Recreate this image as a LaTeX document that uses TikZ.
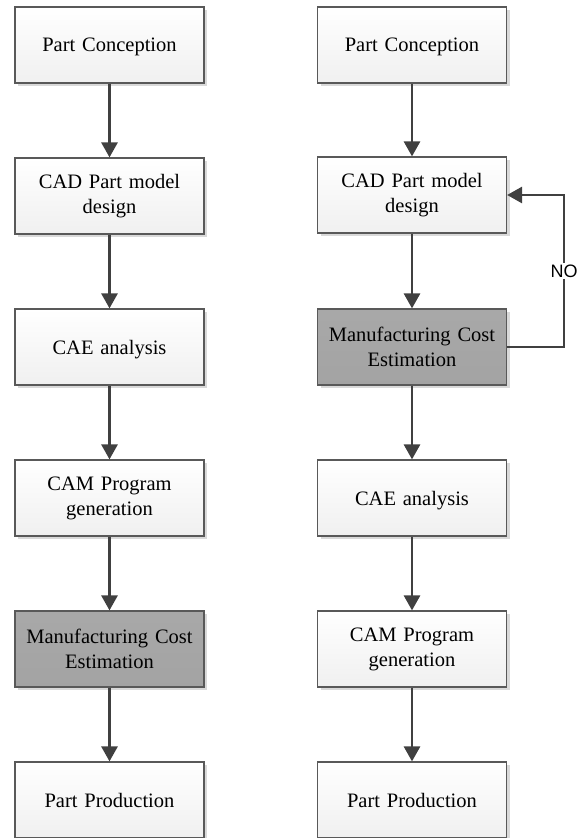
\documentclass[tikz,border=0pt]{standalone}
\usepackage{fontspec}
\setmainfont{Liberation Serif}
\newfontfamily\arialfont{Liberation Sans}
\usetikzlibrary{arrows.meta,shadows}
\definecolor{boxline}{HTML}{595959}
\definecolor{arrowcol}{HTML}{404040}
\definecolor{shadowcol}{HTML}{D9D9D9}
\tikzset{
  stepbox/.style={draw=boxline, line width=1.2pt, minimum width=189pt, minimum height=76pt,
    inner sep=0pt, align=center, font=\fontsize{20.5}{25}\selectfont, text width=185pt,
    top color=white, bottom color=black!6,
    drop shadow={shadow xshift=3pt, shadow yshift=-3pt, fill=shadowcol, opacity=1}},
  oneline/.style={text depth=0pt},
  graybox/.style={stepbox, top color=black!34, bottom color=black!36},
  flow/.style={draw=arrowcol, line width=2.8pt, -{Triangle[length=15pt,width=16pt]}},
}
\begin{document}
\begin{tikzpicture}[x=1pt,y=-1pt]
\useasboundingbox (0,0) rectangle (580,838);
% left column
\node[stepbox,oneline] (L1) at (109.5,45) {Part Conception};
\node[stepbox] (L2) at (109.5,196) {CAD Part model\\design};
\node[stepbox,oneline] (L3) at (109.5,347) {CAE analysis};
\node[stepbox] (L4) at (109.5,498) {CAM Program\\generation};
\node[graybox] (L5) at (109.5,649) {Manufacturing Cost\\Estimation};
\node[stepbox,oneline] (L6) at (109.5,800) {Part Production};
% right column
\node[stepbox,oneline] (R1) at (412,45) {Part Conception};
\node[stepbox] (R2) at (412,195) {CAD Part model\\design};
\node[graybox] (R3) at (412,347) {Manufacturing Cost\\Estimation};
\node[stepbox,oneline] (R4) at (412,498) {CAE analysis};
\node[stepbox] (R5) at (412,649) {CAM Program\\generation};
\node[stepbox,oneline] (R6) at (412,800) {Part Production};
% arrows
\foreach \a/\b in {L1/L2,L2/L3,L3/L4,L4/L5,L5/L6,R1/R2,R2/R3,R3/R4,R4/R5,R5/R6}
  \draw[flow] (\a.south) -- (\b.north);
\coordinate (c1) at (564,347);
\coordinate (c2) at (564,195);
\draw[flow] (R3.east) -- (c1) -- node[fill=white, inner sep=1.5pt, font=\arialfont\fontsize{18}{20}\selectfont] (no) {NO} (c2) -- (R2.east);
\end{tikzpicture}
\end{document}
